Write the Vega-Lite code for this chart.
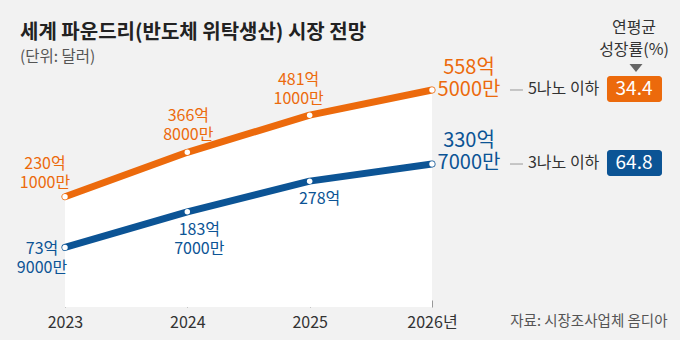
{
  "$schema": "https://vega.github.io/schema/vega-lite/v6.json",
  "width": 667,
  "height": 340,
  "autosize": {"type": "none"},
  "padding": {"left": 0, "top": 0, "right": 13, "bottom": 0},
  "background": "#f2f2f2",
  "config": {"font": "Noto Sans CJK KR", "view": {"stroke": null}},
  "title": {
    "text": "세계 파운드리(반도체 위탁생산) 시장 전망",
    "subtitle": "(단위: 달러)",
    "anchor": "start",
    "frame": "group",
    "orient": "top",
    "baseline": "top",
    "offset": -65,
    "dx": 20,
    "font": "Noto Sans CJK KR",
    "fontSize": 20,
    "fontWeight": "bold",
    "color": "#222222",
    "subtitleFont": "Noto Sans CJK KR",
    "subtitleFontSize": 15.5,
    "subtitleColor": "#555555",
    "subtitlePadding": 7
  },
  "data": {
    "values": [
      {"series": "5나노 이하", "year": 2023, "value": 230.1, "label": "230억\n1000만"},
      {"series": "5나노 이하", "year": 2024, "value": 366.8, "label": "366억\n8000만"},
      {"series": "5나노 이하", "year": 2025, "value": 481.1, "label": "481억\n1000만"},
      {"series": "5나노 이하", "year": 2026, "value": 558.5, "label": "558억\n5000만", "growth": "34.4"},
      {"series": "3나노 이하", "year": 2023, "value": 73.9, "label": "73억\n9000만"},
      {"series": "3나노 이하", "year": 2024, "value": 183.7, "label": "183억\n7000만"},
      {"series": "3나노 이하", "year": 2025, "value": 278, "label": "278억"},
      {"series": "3나노 이하", "year": 2026, "value": 330.7, "label": "330억\n7000만", "growth": "64.8"}
    ]
  },
  "encoding": {
    "x": {
      "field": "year",
      "type": "quantitative",
      "scale": {"domain": [2022.4687, 2027.9211], "nice": false, "zero": false},
      "axis": {
        "values": [2023, 2024, 2025, 2026],
        "format": "d",
        "labelExpr": "datum.value == 2026 ? '2026년' : datum.label",
        "domain": false,
        "grid": false,
        "ticks": true,
        "tickSize": 7,
        "tickColor": "#999999",
        "offset": -40,
        "labelPadding": 7,
        "labelFontSize": 16,
        "labelColor": "#333333",
        "labelFlush": false,
        "title": "자료: 시장조사업체 옴디아",
        "titleAnchor": "end",
        "titleFontSize": 14.5,
        "titleFontWeight": "normal",
        "titleColor": "#555555",
        "titlePadding": -16
      }
    },
    "y": {
      "field": "value",
      "type": "quantitative",
      "stack": null,
      "scale": {"domain": [-210.8, 835.4], "nice": false, "zero": false},
      "axis": null
    },
    "color": {
      "field": "series",
      "type": "nominal",
      "scale": {"domain": ["5나노 이하", "3나노 이하"], "range": ["#ec6a0c", "#0c5495"]},
      "legend": null
    }
  },
  "layer": [
    {
      "transform": [{"filter": "datum.series == '5나노 이하'"}],
      "mark": {"type": "area", "opacity": 1},
      "encoding": {"y2": {"datum": -109.2}, "color": {"value": "#ffffff"}}
    },
    {
      "mark": {"type": "line", "strokeWidth": 7, "strokeCap": "round", "strokeJoin": "round"}
    },
    {
      "mark": {"type": "point", "filled": true, "size": 30, "opacity": 1},
      "encoding": {"color": {"value": "#ffffff"}}
    },
    {
      "transform": [{"filter": "datum.series == '5나노 이하' && datum.year == 2023"}],
      "mark": {"type": "text", "align": "center", "baseline": "middle", "dx": -20, "dy": -33, "fontSize": 16, "lineBreak": "\n", "lineHeight": 19},
      "encoding": {"text": {"field": "label"}}
    },
    {
      "transform": [{"filter": "datum.series == '5나노 이하' && datum.year == 2024"}],
      "mark": {"type": "text", "align": "center", "baseline": "middle", "dx": 1, "dy": -36, "fontSize": 16, "lineBreak": "\n", "lineHeight": 19},
      "encoding": {"text": {"field": "label"}}
    },
    {
      "transform": [{"filter": "datum.series == '5나노 이하' && datum.year == 2025"}],
      "mark": {"type": "text", "align": "center", "baseline": "middle", "dx": -11, "dy": -35, "fontSize": 16, "lineBreak": "\n", "lineHeight": 19},
      "encoding": {"text": {"field": "label"}}
    },
    {
      "transform": [{"filter": "datum.series == '5나노 이하' && datum.year == 2026"}],
      "mark": {"type": "text", "align": "center", "baseline": "middle", "dx": 37, "dy": -22, "fontSize": 20, "lineBreak": "\n", "lineHeight": 22},
      "encoding": {"text": {"field": "label"}}
    },
    {
      "transform": [{"filter": "datum.series == '3나노 이하' && datum.year == 2023"}],
      "mark": {"type": "text", "align": "center", "baseline": "middle", "dx": -23, "dy": 2, "fontSize": 16, "lineBreak": "\n", "lineHeight": 19},
      "encoding": {"text": {"field": "label"}}
    },
    {
      "transform": [{"filter": "datum.series == '3나노 이하' && datum.year == 2024"}],
      "mark": {"type": "text", "align": "center", "baseline": "middle", "dx": 12, "dy": 18, "fontSize": 16, "lineBreak": "\n", "lineHeight": 19},
      "encoding": {"text": {"field": "label"}}
    },
    {
      "transform": [{"filter": "datum.series == '3나노 이하' && datum.year == 2025"}],
      "mark": {"type": "text", "align": "center", "baseline": "middle", "dx": 10, "dy": 18, "fontSize": 16},
      "encoding": {"text": {"field": "label"}}
    },
    {
      "transform": [{"filter": "datum.series == '3나노 이하' && datum.year == 2026"}],
      "mark": {"type": "text", "align": "center", "baseline": "middle", "dx": 37, "dy": -23, "fontSize": 20, "lineBreak": "\n", "lineHeight": 22},
      "encoding": {"text": {"field": "label"}}
    },
    {
      "transform": [{"filter": "datum.year == 2026"}],
      "mark": {"type": "rule", "xOffset": 78, "x2Offset": 91, "strokeWidth": 1},
      "encoding": {"x2": {"field": "year"}, "color": {"value": "#999999"}}
    },
    {
      "transform": [{"filter": "datum.year == 2026"}],
      "mark": {"type": "text", "align": "left", "baseline": "middle", "dx": 96, "dy": -1, "fontSize": 16},
      "encoding": {"text": {"field": "series"}, "color": {"value": "#333333"}}
    },
    {
      "transform": [{"filter": "datum.year == 2026"}],
      "mark": {"type": "rect", "xOffset": 175, "x2Offset": 230, "yOffset": -14, "y2Offset": 12, "cornerRadius": 3},
      "encoding": {"x2": {"field": "year"}, "y2": {"field": "value"}}
    },
    {
      "transform": [{"filter": "datum.year == 2026"}],
      "mark": {"type": "text", "align": "center", "baseline": "middle", "dx": 202, "dy": -1, "fontSize": 19},
      "encoding": {"text": {"field": "growth"}, "color": {"value": "#ffffff"}}
    },
    {
      "transform": [{"filter": "datum.series == '5나노 이하' && datum.year == 2026"}],
      "mark": {"type": "text", "align": "center", "baseline": "middle", "dx": 202, "dy": -62, "fontSize": 16, "lineBreak": "\n", "lineHeight": 22},
      "encoding": {"text": {"value": "연평균\n성장률(%)"}, "color": {"value": "#333333"}}
    },
    {
      "transform": [{"filter": "datum.series == '5나노 이하' && datum.year == 2026"}],
      "mark": {"type": "point", "shape": "M-1,-0.6L1,-0.6L0,0.6Z", "size": 169, "filled": true, "opacity": 1, "xOffset": 204, "yOffset": -22},
      "encoding": {"color": {"value": "#666666"}}
    }
  ]
}
